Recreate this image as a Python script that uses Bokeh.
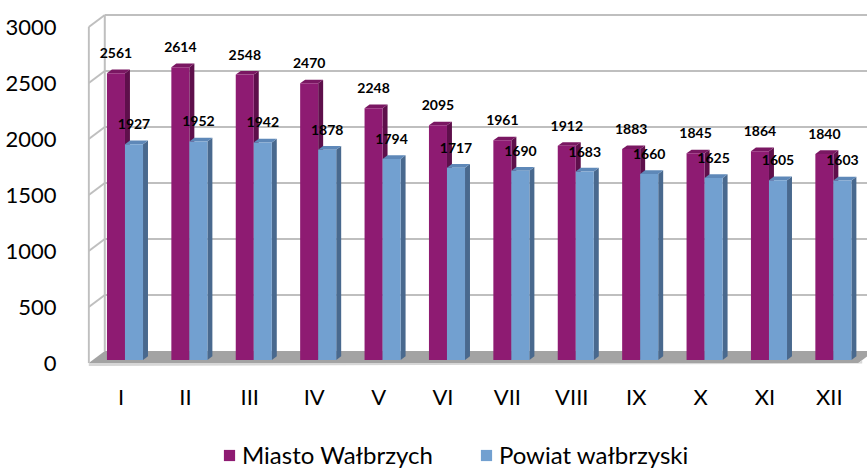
from bokeh.plotting import figure
from bokeh.models import (Range1d, FixedTicker, LinearAxis, Legend, LegendItem)
from bokeh.core.properties import value
from bokeh.embed import file_html
from bokeh.resources import INLINE

# ---- data ----
months = ["I", "II", "III", "IV", "V", "VI", "VII", "VIII", "IX", "X", "XI", "XII"]
miasto = [2561, 2614, 2548, 2470, 2248, 2095, 1961, 1912, 1883, 1845, 1864, 1840]
powiat = [1927, 1952, 1942, 1878, 1794, 1717, 1690, 1683, 1660, 1625, 1605, 1603]
y_ticks = [0, 500, 1000, 1500, 2000, 2500, 3000]
series_names = ["Miasto Wałbrzych", "Powiat wałbrzyski"]

# ---- styles ----
FONT = "Lato"
front_col = ["#8E1B72", "#72A0D0"]
side_col = ["#5E0F4B", "#49698E"]
top_col = ["#7A1762", "#5E88B8"]
grid_col = "#BFBFBF"

# ---- 3D projection constants ----
W, H = 867, 470
LEFT = 87
PX_X = 64.4          # px per category
PX_Y = 0.112         # px per value unit
DX = 16 / PX_X       # wall depth, x (data units)
DY = 12 / PX_Y       # wall depth, y (data units)
F0, F1 = 0.25, 0.56  # bar depth range (fraction of wall depth)
BW = 0.28            # bar width (category units)
ZERO_PX = 362.5      # screen y of the front floor edge

x_start = -0.52
x_end = x_start + (W - LEFT) / PX_X
y_top = ZERO_PX / PX_Y
y_bot = y_top - H / PX_Y

p = figure(width=W, height=H, output_backend="svg", toolbar_location=None,
           x_range=Range1d(x_start, x_end), y_range=Range1d(y_bot, y_top),
           min_border_left=LEFT, min_border_right=0, min_border_top=0,
           min_border_bottom=0, x_axis_location=None, y_axis_location=None)
p.outline_line_color = None
p.grid.visible = False
p.background_fill_color = "white"
p.border_fill_color = "white"

# y axis (front plane)
yax = LinearAxis(ticker=FixedTicker(ticks=y_ticks))
yax.axis_line_color = None
yax.major_tick_line_color = None
yax.minor_tick_line_color = None
yax.major_label_standoff = 25
yax.major_label_text_font = FONT
yax.major_label_text_font_size = "22px"
yax.major_label_text_color = "#000000"
p.add_layout(yax, "left")

# ---- walls & floor ----
xl = -0.5
xr = 11.45
ymax = y_ticks[-1]
p.patch([xl, xr, xr + DX, xl + DX], [0, 0, DY, DY], fill_color="#A3A3A3",
        line_color=None)
T = 3 / PX_Y
p.patch([xl, xr, xr + 0.06, xr + 0.06, xl], [0, 0, 0.2 * DY, -T + 0.2 * DY, -T],
        fill_color="#D6D6D6", line_color=None)

for v in y_ticks[1:]:
    p.line([xl + DX, x_end + 1], [v + DY, v + DY], line_color=grid_col, line_width=2)
for v in y_ticks[1:]:
    p.line([xl, xl + DX], [v, v + DY], line_color=grid_col, line_width=2)
p.line([xl, xl], [0, ymax], line_color=grid_col, line_width=2)
p.line([xl + DX, xl + DX], [DY, ymax + DY], line_color=grid_col, line_width=2)

# ---- bars ----
front_renderers = []
for s, vals in enumerate([miasto, powiat]):
    lefts, rights, bottoms, tops = [], [], [], []
    sxs, sys_, txs, tys = [], [], [], []
    for i, v in enumerate(vals):
        x0 = i - BW + s * BW
        x1 = x0 + BW
        lefts.append(x0 + F0 * DX)
        rights.append(x1 + F0 * DX)
        bottoms.append(F0 * DY)
        tops.append(v + F0 * DY)
        sxs.append([x1 + F0 * DX, x1 + F1 * DX, x1 + F1 * DX, x1 + F0 * DX])
        sys_.append([F0 * DY, F1 * DY, v + F1 * DY, v + F0 * DY])
        txs.append([x0 + F0 * DX, x1 + F0 * DX, x1 + F1 * DX, x0 + F1 * DX])
        tys.append([v + F0 * DY, v + F0 * DY, v + F1 * DY, v + F1 * DY])
    p.patches(sxs, sys_, fill_color=side_col[s], line_color=None)
    p.patches(txs, tys, fill_color=top_col[s], line_color=None)
    r = p.quad(left=lefts, right=rights, bottom=bottoms, top=tops,
               fill_color=front_col[s], line_color=None)
    front_renderers.append(r)

# ---- data labels ----
for s, vals in enumerate([miasto, powiat]):
    xs = [i - BW + s * BW + BW / 2 + F0 * DX for i in range(len(vals))]
    ys = [v + F0 * DY for v in vals]
    p.text(x=xs, y=ys, text=[str(v) for v in vals], y_offset=-20,
           text_align="center", text_baseline="middle",
           text_font=value(FONT), text_font_style="bold",
           text_font_size="14px", text_color="#000000")

# ---- category (x tick) labels, below the front floor edge ----
p.text(x=list(range(len(months))), y=[0] * len(months), text=months, y_offset=33,
       text_align="center", text_baseline="middle", text_font=value(FONT),
       text_font_size="22px", text_color="#000000")

# ---- legend ----
legend = Legend(items=[LegendItem(label=series_names[k], renderers=[front_renderers[k]])
                       for k in range(2)],
                location=(135, 1), orientation="horizontal")
legend.border_line_color = None
legend.background_fill_alpha = 0
legend.padding = 0
legend.margin = 0
legend.spacing = 46
legend.glyph_width = 14
legend.glyph_height = 14
legend.label_standoff = 6
legend.label_text_font = FONT
legend.label_text_font_size = "24px"
legend.label_text_color = "#000000"
p.add_layout(legend, "center")

open("out.html", "w").write(file_html(p, INLINE))
